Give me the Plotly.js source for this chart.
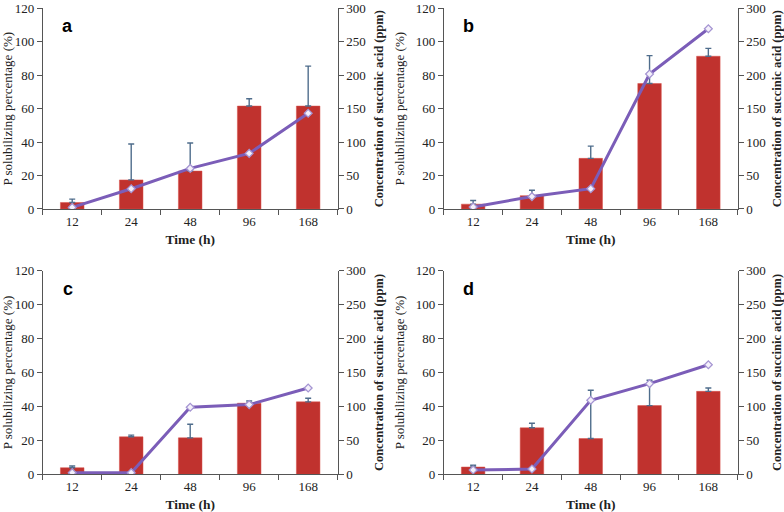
<!DOCTYPE html>
<html>
<head>
<meta charset="utf-8">
<script src="https://cdn.plot.ly/plotly-3.0.1.min.js"></script>
<style>html,body{margin:0;padding:0;background:#fff;}#chart{width:784px;height:512px;}</style>
</head>
<body>
<div id="chart"></div>
<script>
// Time points (h)
const categories = ['12', '24', '48', '96', '168'];

// P solubilizing percentage (%) – bars, and upper error amounts
const barA = [3.9, 17.4, 22.7, 61.6, 61.6];
const errA = [2.0, 21.5, 16.8, 4.4, 23.9];
const barB = [2.9, 8.0, 30.3, 75.1, 91.4];
const errB = [2.2, 3.2, 7.3, 16.7, 4.7];
const barC = [3.9, 22.1, 21.5, 41.9, 42.7];
const errC = [1.0, 1.0, 8.0, 1.3, 2.1];
const barD = [4.3, 27.4, 21.1, 40.5, 48.9];
const errD = [1.0, 2.7, 28.4, 14.9, 2.0];

// Concentration of succinic acid (ppm) – lines
const lineA = [2.4, 30.3, 60.7, 83.2, 143.3];
const lineB = [2.9, 18.6, 30.3, 202.0, 269.6];
const lineC = [2.4, 2.4, 98.8, 102.7, 127.2];
const lineD = [6.4, 7.8, 109.1, 133.6, 161.4];

const panelLabels = ['a', 'b', 'c', 'd'];
const leftTicks = [0, 20, 40, 60, 80, 100, 120];
const rightTicks = [0, 50, 100, 150, 200, 250, 300];

const panels = [
  {label: panelLabels[0], bar: barA, err: errA, line: lineA},
  {label: panelLabels[1], bar: barB, err: errB, line: lineB},
  {label: panelLabels[2], bar: barC, err: errC, line: lineC},
  {label: panelLabels[3], bar: barD, err: errD, line: lineD}
];

const xDom = [[0.0545, 0.4307], [0.566, 0.941], [0.0545, 0.4307], [0.566, 0.941]];
const yDom = [[0.5918, 0.9835], [0.5918, 0.9835], [0.0736, 0.4713], [0.0736, 0.4713]];

const serif = 'Liberation Serif, Times New Roman, serif';
const axisCol = '#555555';
const txtCol = '#222222';

const traces = [];
const layout = {
  width: 784, height: 512,
  margin: {l: 0, r: 0, t: 0, b: 0},
  paper_bgcolor: '#ffffff', plot_bgcolor: 'rgba(0,0,0,0)',
  showlegend: false,
  bargap: 0.6,
  font: {family: serif, size: 13, color: txtCol},
  annotations: []
};

panels.forEach((p, i) => {
  const xn = i === 0 ? 'x' : 'x' + (i + 1);
  const yl = 2 * i + 1 === 1 ? 'y' : 'y' + (2 * i + 1);
  const yr = 'y' + (2 * i + 2);
  const xKey = i === 0 ? 'xaxis' : 'xaxis' + (i + 1);
  const ylKey = yl === 'y' ? 'yaxis' : 'yaxis' + (2 * i + 1);
  const yrKey = 'yaxis' + (2 * i + 2);

  traces.push({
    type: 'bar', x: categories, y: p.bar, xaxis: xn, yaxis: yl,
    marker: {color: '#c0322e', line: {color: '#d8504a', width: 0.5}},
    error_y: {type: 'data', symmetric: false, array: p.err,
              arrayminus: p.err.map(() => 0), color: '#4f6d8c', thickness: 1.4, width: 3},
    hoverinfo: 'x+y'
  });
  traces.push({
    type: 'scatter', mode: 'lines+markers', x: categories, y: p.line, xaxis: xn, yaxis: yr,
    line: {color: '#7b5db8', width: 3},
    marker: {symbol: 'diamond', size: 6, color: '#f4f0fb', line: {color: '#a595d2', width: 1.3}}
  });

  layout[xKey] = {
    domain: xDom[i], anchor: yl, type: 'category',
    range: [-0.5, 4.5], showgrid: false, zeroline: false,
    showline: true, linecolor: axisCol, linewidth: 1,
    ticks: 'outside', tickson: 'boundaries', ticklen: 5, tickcolor: axisCol,
    tickfont: {family: serif, size: 13, color: txtCol},
    title: {text: 'Time (h)', font: {family: serif, size: 13.5, color: txtCol, weight: 'bold'}, standoff: 6},
    automargin: false
  };
  layout[ylKey] = {
    domain: yDom[i], anchor: xn, range: [0, 120],
    tickvals: leftTicks, showgrid: false, zeroline: false,
    showline: true, linecolor: axisCol, linewidth: 1,
    ticks: 'outside', ticklen: 5, tickcolor: axisCol, ticklabeloverflow: 'allow',
    tickfont: {family: serif, size: 13, color: txtCol},
    title: {text: 'P solubilizing percentage (%)', font: {family: serif, size: 13, color: txtCol}, standoff: 8},
    automargin: false
  };
  layout[yrKey] = {
    domain: yDom[i], anchor: xn, overlaying: yl, side: 'right', range: [0, 300],
    tickvals: rightTicks, showgrid: false, zeroline: false,
    showline: true, linecolor: axisCol, linewidth: 1,
    ticks: 'outside', ticklen: 5, tickcolor: axisCol, ticklabeloverflow: 'allow',
    tickfont: {family: serif, size: 13, color: txtCol},
    title: {text: 'Concentration of succinic acid (ppm)', font: {family: serif, size: 12.5, color: txtCol, weight: 'bold'}, standoff: 9},
    automargin: false
  };
  layout.annotations.push({
    text: '<b>' + p.label + '</b>', xref: xn + ' domain', yref: yl + ' domain',
    x: 0.084, y: 0.912, xanchor: 'center', yanchor: 'middle', showarrow: false,
    font: {family: 'Liberation Sans, Arial, sans-serif', size: 18, color: '#000000'}
  });
});

Plotly.newPlot('chart', traces, layout, {displayModeBar: false, staticPlot: true});
</script>
</body>
</html>
